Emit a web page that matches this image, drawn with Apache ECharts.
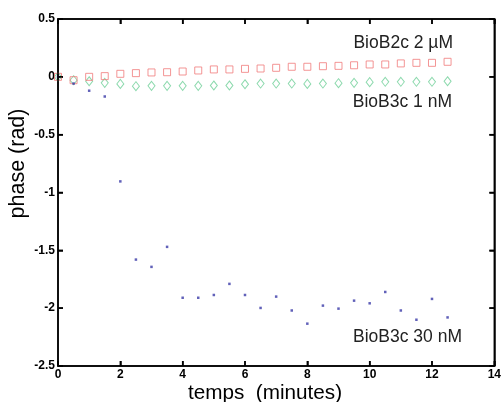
<!DOCTYPE html>
<html><head><meta charset="utf-8">
<script src="https://cdn.jsdelivr.net/npm/echarts@6/dist/echarts.min.js"></script>
<style>html,body{margin:0;padding:0;background:#fff}#c{width:504px;height:402px}</style>
</head><body><div id="c"></div>
<script>
const times = [0,0.5,1,1.5,2,2.5,3,3.5,4,4.5,5,5.5,6,6.5,7,7.5,8,8.5,9,9.5,10,10.5,11,11.5,12,12.5];
const bioB2c_2uM = [0,-0.029,0,0.006,0.026,0.032,0.038,0.04,0.046,0.055,0.064,0.064,0.069,0.072,0.078,0.087,0.087,0.092,0.095,0.1,0.107,0.107,0.116,0.121,0.121,0.13];
const bioB3c_1nM = [0,-0.029,-0.038,-0.052,-0.061,-0.081,-0.078,-0.078,-0.078,-0.078,-0.075,-0.075,-0.064,-0.058,-0.058,-0.058,-0.061,-0.058,-0.055,-0.052,-0.046,-0.043,-0.043,-0.043,-0.043,-0.038];
const bioB3c_30nM = [0,-0.058,-0.12,-0.17,-0.904,-1.58,-1.643,-1.47,-1.91,-1.91,-1.886,-1.79,-1.886,-1.998,-1.90,-2.02,-2.134,-1.978,-2.004,-1.935,-1.958,-1.86,-2.02,-2.10,-1.92,-2.08];
const xTicks = [0,2,4,6,8,10,12,14];
const yTicks = [-2.5,-2,-1.5,-1,-0.5,0,0.5];
const xTitle = 'temps  (minutes)';
const yTitle = 'phase (rad)';

const pairs = arr => times.map((t,i)=>[t,arr[i]]);
const FONT = 'Liberation Sans, Arial, sans-serif';
const al = () => ({show:true,onZero:false,lineStyle:{color:'#000',width:1.5}});
const tk = () => ({show:true,inside:true,length:5,lineStyle:{color:'#000',width:1.5}});
const lbl = () => ({color:'#000',fontWeight:'bold',fontSize:12,fontFamily:FONT,margin:3,formatter:v=>String(v)});
const chart = echarts.init(document.getElementById('c'));
chart.setOption({
  animation:false,
  grid:{left:58,right:8,top:19,bottom:36},
  xAxis:[
    {type:'value',min:xTicks[0],max:xTicks[xTicks.length-1],interval:2,axisLine:al(),axisTick:tk(),splitLine:{show:false},axisLabel:lbl()},
    {type:'value',position:'top',min:xTicks[0],max:xTicks[xTicks.length-1],interval:2,axisLine:al(),axisTick:tk(),axisLabel:{show:false},splitLine:{show:false}}
  ],
  yAxis:[
    {type:'value',min:yTicks[0],max:yTicks[yTicks.length-1],interval:0.5,axisLine:al(),axisTick:tk(),splitLine:{show:false},axisLabel:lbl()},
    {type:'value',position:'right',min:yTicks[0],max:yTicks[yTicks.length-1],interval:0.5,axisLine:al(),axisTick:tk(),axisLabel:{show:false},splitLine:{show:false}}
  ],
  series:[
    {type:'scatter',name:'BioB3c 1 nM',data:pairs(bioB3c_1nM),symbol:'diamond',symbolSize:[7,9],
     itemStyle:{color:'rgba(255,255,255,0)',borderColor:'#6fcf98',borderWidth:1}},
    {type:'scatter',name:'BioB2c 2 µM',data:pairs(bioB2c_2uM),symbol:'rect',symbolSize:7,
     itemStyle:{color:'rgba(255,255,255,0)',borderColor:'#f07a7a',borderWidth:1}},
    {type:'scatter',name:'BioB3c 30 nM',data:pairs(bioB3c_30nM),symbol:'rect',symbolSize:2.5,
     itemStyle:{color:'#3a3aa8'}}
  ]
});

// Frame and inward ticks placed through the chart's own scales
const px = v => chart.convertToPixel({xAxisIndex:0}, v);
const py = v => chart.convertToPixel({yAxisIndex:0}, v);
const xL = px(xTicks[0]), xR = px(xTicks[xTicks.length-1]);
const yT = py(yTicks[yTicks.length-1]), yB = py(yTicks[0]);
const lineStyle = {stroke:'#000',lineWidth:1.5};
const frame = [{type:'rect',z:100,shape:{x:xL,y:yT,width:xR-xL,height:yB-yT},style:{stroke:'#000',fill:null,lineWidth:1.5}}];
xTicks.forEach(v => {
  const x = px(v);
  frame.push({type:'line',z:100,shape:{x1:x,y1:yB,x2:x,y2:yB-5},style:lineStyle});
  frame.push({type:'line',z:100,shape:{x1:x,y1:yT,x2:x,y2:yT+5},style:lineStyle});
});
yTicks.forEach(v => {
  const y = py(v);
  frame.push({type:'line',z:100,shape:{x1:xL,y1:y,x2:xL+5,y2:y},style:lineStyle});
  frame.push({type:'line',z:100,shape:{x1:xR,y1:y,x2:xR-5,y2:y},style:lineStyle});
});

chart.setOption({
  graphic: frame.concat([
    {type:'text',x:265,y:393,style:{text:xTitle,fontSize:20.7,fill:'#000',fontFamily:FONT,textAlign:'center',textVerticalAlign:'middle'}},
    {type:'text',x:18.5,y:163.5,rotation:Math.PI/2,style:{text:yTitle,fontSize:21.5,fill:'#000',fontFamily:FONT,textAlign:'center',textVerticalAlign:'middle'}},
    {type:'text',right:51,top:34,style:{text:'BioB2c 2 \u00b5M',fontSize:17.5,fill:'#222',fontFamily:FONT}},
    {type:'text',right:52,top:93,style:{text:'BioB3c 1 nM',fontSize:17.5,fill:'#222',fontFamily:FONT}},
    {type:'text',right:42,top:328,style:{text:'BioB3c 30 nM',fontSize:17.5,fill:'#222',fontFamily:FONT}}
  ])
});
</script></body></html>
